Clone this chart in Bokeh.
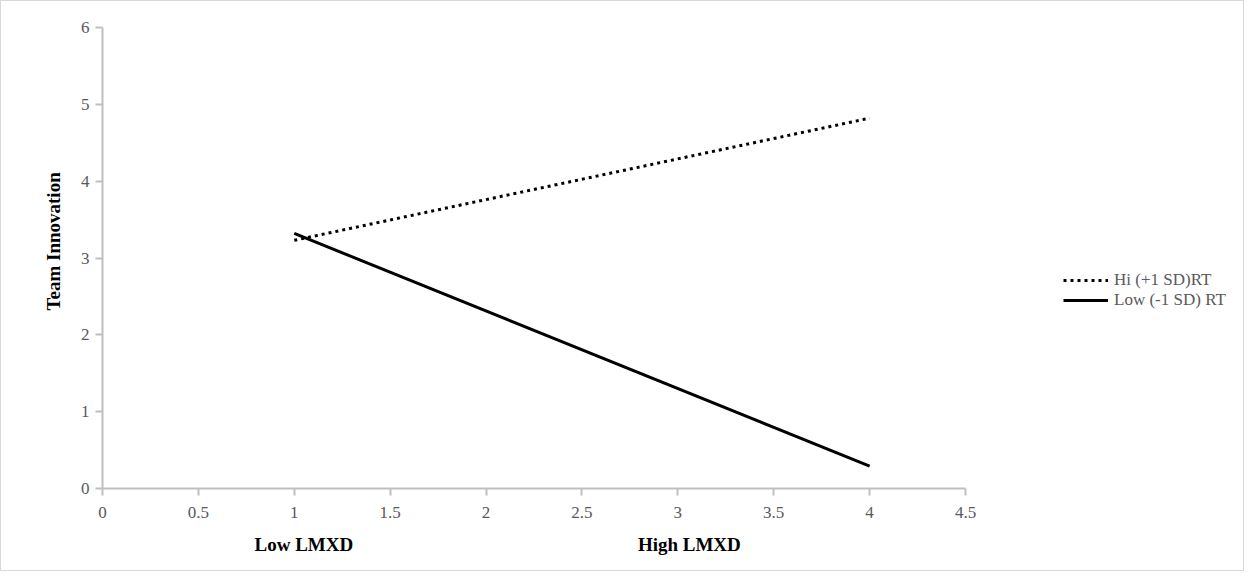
from bokeh.plotting import figure
from bokeh.models import Range1d, FixedTicker, Legend, LegendItem, LinearAxis
from bokeh.embed import file_html
from bokeh.resources import INLINE

x_vals = [1, 4]
hi_rt = [3.23, 4.82]
low_rt = [3.32, 0.29]
x_ticks = [0, 0.5, 1, 1.5, 2, 2.5, 3, 3.5, 4, 4.5]
x_tick_labels = ["0", "0.5", "1", "1.5", "2", "2.5", "3", "3.5", "4", "4.5"]
y_ticks = [0, 1, 2, 3, 4, 5, 6]
group_labels = ["Low LMXD", "High LMXD"]
group_pos = [1.05, 3.06]
series_names = ["Hi (+1 SD)RT", "Low (-1 SD) RT"]

FONT = "Liberation Serif"

W, H = 1244, 571
LEFT, TOP, BOTTOM = 101, 26, 84
AXIS_PX = 863  # pixel length of the 0..4.5 axis
x_end = 4.5 * (W - LEFT) / AXIS_PX

p = figure(width=W, height=H, output_backend="svg", toolbar_location=None,
           x_range=Range1d(0, x_end), y_range=Range1d(0, 6),
           min_border_left=LEFT, min_border_right=0, min_border_top=TOP, min_border_bottom=BOTTOM)
p.styles = {"border": "1px solid #d9d9d9", "box-sizing": "border-box"}
p.outline_line_color = None
p.grid.visible = False

for ax in (p.xaxis[0], p.yaxis[0]):
    ax.axis_line_color = "#bfbfbf"
    ax.axis_line_width = 2
    ax.major_tick_line_color = "#bfbfbf"
    ax.major_tick_line_width = 2
    ax.major_tick_out = 7
    ax.major_tick_in = 0
    ax.minor_tick_line_color = None
    ax.major_label_text_font = FONT
    ax.major_label_text_font_size = "17px"
    ax.major_label_text_color = "#595959"

p.xaxis.ticker = FixedTicker(ticks=x_ticks)
p.xaxis.bounds = (x_ticks[0], x_ticks[-1])
p.xaxis.major_label_overrides = {t: l for t, l in zip(x_ticks, x_tick_labels)}
p.xaxis.major_label_standoff = 11
p.yaxis.ticker = FixedTicker(ticks=y_ticks)
p.yaxis.major_label_standoff = 6
p.yaxis.axis_label = "\u00a0" * 7 + "Team Innovation"
p.yaxis.axis_label_text_font = FONT
p.yaxis.axis_label_text_font_style = "bold"
p.yaxis.axis_label_text_font_size = "19px"
p.yaxis.axis_label_text_color = "black"
p.yaxis.axis_label_standoff = 14

group_axis = LinearAxis(ticker=FixedTicker(ticks=group_pos),
                        major_label_overrides={t: l for t, l in zip(group_pos, group_labels)},
                        axis_line_color=None, major_tick_line_color=None,
                        minor_tick_line_color=None, major_label_standoff=7,
                        major_label_text_font=FONT, major_label_text_font_style="bold",
                        major_label_text_font_size="19px", major_label_text_color="black")
p.add_layout(group_axis, "below")

r_hi = p.line(x_vals, hi_rt, line_color="black", line_width=3, line_dash="3 4")
r_low = p.line(x_vals, low_rt, line_color="black", line_width=3)

legend = Legend(items=[LegendItem(label=series_names[0], renderers=[r_hi]),
                       LegendItem(label=series_names[1], renderers=[r_low])],
                location=(AXIS_PX + 98, 178), border_line_color=None, background_fill_alpha=0,
                label_text_font=FONT, label_text_font_size="17px", label_text_color="#595959",
                glyph_width=45, spacing=0, label_standoff=6, padding=0, margin=0,
                label_height=20, glyph_height=20)
p.add_layout(legend)

open("out.html", "w").write(file_html(p, INLINE))
